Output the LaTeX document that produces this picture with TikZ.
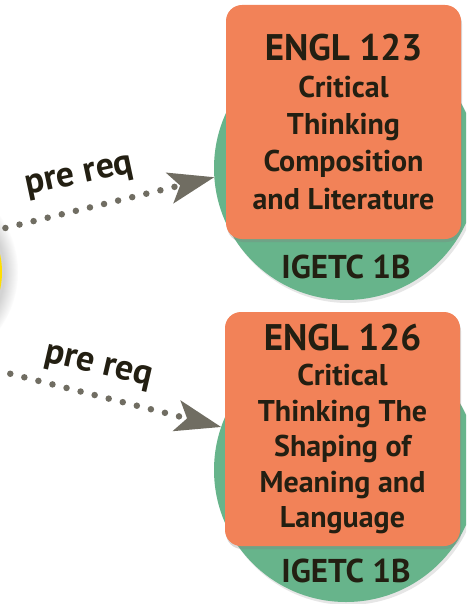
\documentclass[tikz,border=0pt]{standalone}
\usepackage{fontspec}
\setmainfont{PT Sans}
\usetikzlibrary{arrows.meta,shadows}

\definecolor{courseorange}{RGB}{242,130,88}
\definecolor{ringgreen}{RGB}{103,180,139}
\definecolor{ink}{RGB}{35,31,18}
\definecolor{arrowgray}{RGB}{112,109,98}
\definecolor{coreyellow}{RGB}{255,222,0}

\begin{document}
\begin{tikzpicture}[x=1pt, y=-1pt,
	ringnode/.style={circle, fill=ringgreen, minimum size=264pt, inner sep=0pt,
		drop shadow={opacity=0.2, shadow xshift=2pt, shadow yshift=-3pt}},
	coursebox/.style={rectangle, rounded corners=16pt, fill=courseorange,
		minimum width=235pt, minimum height=234pt, inner sep=0pt, align=center,
		text=ink, font=\bfseries\fontsize{30}{37}\selectfont,
		drop shadow={opacity=0.3, shadow xshift=1pt, shadow yshift=-3pt}},
	tagtext/.style={text=ink, font=\bfseries\fontsize{33}{33}\selectfont},
	prelabel/.style={text=ink, font=\bfseries\fontsize{36}{36}\selectfont},
	prereq/.style={draw=arrowgray, line width=6.5pt, line cap=round,
		dash pattern=on 0pt off 14.5pt,
		-{Stealth[length=46pt, width=32pt, inset=11pt, line width=0pt, fill=arrowgray]}}]
	
	\path[use as bounding box, clip] (0,0) rectangle (466,604);
	
	% Core course (off to the left)
	\node[circle, fill=coreyellow, minimum size=162pt, inner sep=0pt,
		circular drop shadow={shadow xshift=0pt, shadow yshift=0pt, shadow scale=1.2, opacity=0.35}]
		(core) at (-79,272) {};
	
	% Rings
	\node[ringnode] (ring123) at (346,168) {};
	\node[ringnode] (ring126) at (346,470) {};
	
	% Course boxes
	\node[coursebox] (box123) at (343.5,122)
		{{\fontsize{37}{38}\selectfont ENGL 123}\\Critical\\Thinking\\Composition\\and Literature};
	\node[coursebox, font=\bfseries\fontsize{30}{35.5}\selectfont] (box126) at (342.5,429)
		{{\fontsize{37}{38}\selectfont ENGL 126}\\Critical\\Thinking The\\Shaping of\\Meaning and\\Language};
	
	% IGETC tags
	\node[tagtext] (tag123) at (346,267) {IGETC 1B};
	\node[tagtext] (tag126) at (346,571) {IGETC 1B};
	
	% Prerequisite arrows
	\coordinate (from126) at (-60,356);
	\draw[prereq] (core.30) -- (ring123.184);
	\draw[prereq] (from126) -- (ring126.161);
	\node[prelabel, rotate=12] (req123) at (80,178) {pre req};
	\node[prelabel, rotate=-13] (req126) at (98,368) {pre req};
	
\end{tikzpicture}
\end{document}
